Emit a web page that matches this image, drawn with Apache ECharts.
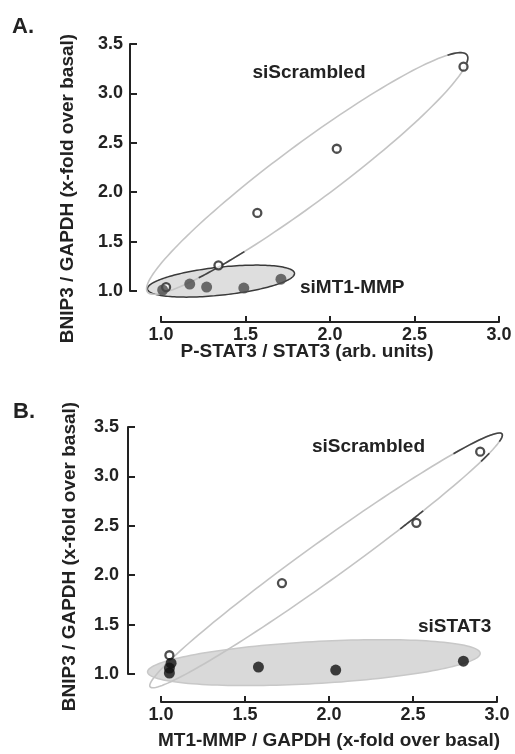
<!DOCTYPE html>
<html>
<head>
<meta charset="utf-8">
<script src="https://cdn.jsdelivr.net/npm/echarts@6/dist/echarts.min.js"></script>
<style>
  html, body { margin: 0; padding: 0; background: #fff; }
  #chart { width: 515px; height: 754px; }
</style>
</head>
<body>
<div id="chart"></div>
<script>
var chart = echarts.init(document.getElementById('chart'));

// data, panel A
const aScrambled = [[1.03, 1.04], [1.34, 1.26], [1.57, 1.79], [2.04, 2.44], [2.79, 3.27]];
const aMT1 = [[1.01, 1.01], [1.17, 1.07], [1.27, 1.04], [1.49, 1.03], [1.71, 1.12]];
// data, panel B
const bScrambled = [[1.05, 1.19], [1.72, 1.92], [2.52, 2.53], [2.90, 3.25]];
const bSTAT3 = [[1.05, 1.01], [1.05, 1.06], [1.06, 1.11], [1.58, 1.07], [2.04, 1.04], [2.80, 1.13]];

// group ellipses: two tips in data units (x1, y1, x2, y2); knockdown group first
const aEllipses = [[0.92, 1.02, 1.79, 1.18], [0.92, 0.99, 2.81, 3.39]];
const bEllipses = [[0.92, 1.02, 2.90, 1.21], [0.935, 0.87, 3.03, 3.43]];

const ticks = [1.0, 1.5, 2.0, 2.5, 3.0, 3.5];

var FONT = "'Liberation Sans', Arial, sans-serif";
var INK = '#222';

var aEllStyle = [
  { half: 14, fill: '#dedede', stroke: '#3a3a3a', width: 1.5, dark: [] },
  { half: 29, fill: 'none', stroke: '#c4c4c4', width: 1.6, dark: [[-0.4, 0.22], [2.08, 2.42]] }
];
var bEllStyle = [
  { half: 21, fill: '#d9d9d9', stroke: '#c8c8c8', width: 1.5, dark: [] },
  { half: 19, fill: 'none', stroke: '#c4c4c4', width: 1.6, dark: [[-0.7, 0.25], [0.45, 0.56], [1.05, 1.2]] }
];

function ellipseRender(styles) {
  return function (params, api) {
    var p1 = api.coord([api.value(0), api.value(1)]);
    var p2 = api.coord([api.value(2), api.value(3)]);
    var st = styles[params.dataIndex];
    var cx = (p1[0] + p2[0]) / 2, cy = (p1[1] + p2[1]) / 2;
    var dx = p2[0] - p1[0], dy = p2[1] - p1[1];
    var a = Math.sqrt(dx * dx + dy * dy) / 2, th = Math.atan2(dy, dx), b = st.half;
    function pt(t) {
      var ex = a * Math.cos(t), ey = b * Math.sin(t);
      return [cx + ex * Math.cos(th) - ey * Math.sin(th), cy + ex * Math.sin(th) + ey * Math.cos(th)];
    }
    var ring = [];
    for (var i = 0; i < 160; i++) ring.push(pt(i / 160 * 2 * Math.PI));
    var kids = [{
      type: 'polygon',
      shape: { points: ring },
      style: { fill: st.fill, stroke: st.stroke, lineWidth: st.width }
    }];
    st.dark.forEach(function (r) {
      var pts = [];
      for (var k = 0; k <= 20; k++) pts.push(pt(r[0] + (r[1] - r[0]) * k / 20));
      kids.push({ type: 'polyline', shape: { points: pts }, style: { fill: 'none', stroke: '#444', lineWidth: 1.6 } });
    });
    return { type: 'group', children: kids };
  };
}

function xAxisOf(gridIndex, name, offset, gap, pad) {
  return {
    type: 'value', gridIndex: gridIndex, min: 1, max: 3, interval: 0.5,
    offset: offset,
    axisLine: { show: true, onZero: false, lineStyle: { color: INK, width: 2 } },
    axisTick: { show: true, inside: true, length: 6, lineStyle: { color: INK, width: 2 } },
    axisLabel: { margin: 4, fontSize: 18, fontWeight: 'bold', fontFamily: FONT, color: INK,
      formatter: function (v) { return v.toFixed(1); } },
    splitLine: { show: false },
    name: name, nameLocation: 'middle', nameGap: gap, nameMoveOverlap: false,
    nameTextStyle: { fontSize: 19, fontWeight: 'bold', fontFamily: FONT, color: INK, padding: pad }
  };
}

function yAxisOf(gridIndex, offset, margin, gap, pad) {
  return {
    type: 'value', gridIndex: gridIndex, min: 1, max: 3.5, interval: 0.5,
    offset: offset,
    axisLine: { show: true, onZero: false, lineStyle: { color: INK, width: 2 } },
    axisTick: { show: true, inside: true, length: 7, lineStyle: { color: INK, width: 2 } },
    axisLabel: { margin: margin, fontSize: 18, fontWeight: 'bold', fontFamily: FONT, color: INK,
      formatter: function (v) { return ticks.indexOf(v) >= 0 ? v.toFixed(1) : ''; } },
    splitLine: { show: false },
    name: 'BNIP3 / GAPDH (x-fold over basal)', nameLocation: 'middle', nameGap: gap, nameMoveOverlap: false,
    nameTextStyle: { fontSize: 19, fontWeight: 'bold', fontFamily: FONT, color: INK, padding: pad }
  };
}

function label(text, x, y, align, size) {
  return {
    type: 'text', x: x, y: y,
    style: { text: text, fill: INK, font: 'bold ' + (size || 19) + 'px ' + FONT,
      textAlign: align || 'left', textVerticalAlign: 'middle' }
  };
}

var openDot = { color: '#fff', borderColor: INK, borderWidth: 2.3 };

var option = {
  backgroundColor: '#fff',
  animation: false,
  grid: [
    { left: 161, right: 16, top: 44, bottom: 463, outerBoundsMode: 'none' },
    { left: 161, right: 18, top: 427, bottom: 80, outerBoundsMode: 'none' }
  ],
  xAxis: [
    xAxisOf(0, 'P-STAT3 / STAT3 (arb. units)', 31, 20, [0, 46, 0, 0]),
    xAxisOf(1, 'MT1-MMP / GAPDH (x-fold over basal)', 28, 29.5, 0)
  ],
  yAxis: [
    yAxisOf(0, 31, 7, 52.5, [0, 42, 0, 0]),
    yAxisOf(1, 33, 9, 48.5, [0, 12, 0, 0])
  ],
  graphic: [
    label('A.', 12, 27, 'left', 22),
    label('B.', 13, 412, 'left', 22),
    label('siScrambled', 309, 73, 'center'),
    label('siMT1-MMP', 300, 288, 'left'),
    label('siScrambled', 312, 447, 'left'),
    label('siSTAT3', 418, 627, 'left')
  ],
  series: [
    { type: 'custom', xAxisIndex: 0, yAxisIndex: 0, renderItem: ellipseRender(aEllStyle),
      data: aEllipses, encode: { x: [0, 2], y: [1, 3] }, clip: false, z: 1, silent: true },
    { type: 'custom', xAxisIndex: 1, yAxisIndex: 1, renderItem: ellipseRender(bEllStyle),
      data: bEllipses, encode: { x: [0, 2], y: [1, 3] }, clip: false, z: 1, silent: true },
    { name: 'siScrambled', type: 'scatter', xAxisIndex: 0, yAxisIndex: 0, data: aScrambled,
      symbolSize: 8, itemStyle: openDot, z: 3 },
    { name: 'siMT1-MMP', type: 'scatter', xAxisIndex: 0, yAxisIndex: 0, data: aMT1,
      symbolSize: 11, itemStyle: { color: '#4a4a4a' }, z: 4 },
    { name: 'siScrambled', type: 'scatter', xAxisIndex: 1, yAxisIndex: 1, data: bScrambled,
      symbolSize: 8, itemStyle: openDot, z: 3 },
    { name: 'siSTAT3', type: 'scatter', xAxisIndex: 1, yAxisIndex: 1, data: bSTAT3,
      symbolSize: 11, itemStyle: { color: '#111' }, z: 4 }
  ]
};
chart.setOption(option);
</script>
</body>
</html>
